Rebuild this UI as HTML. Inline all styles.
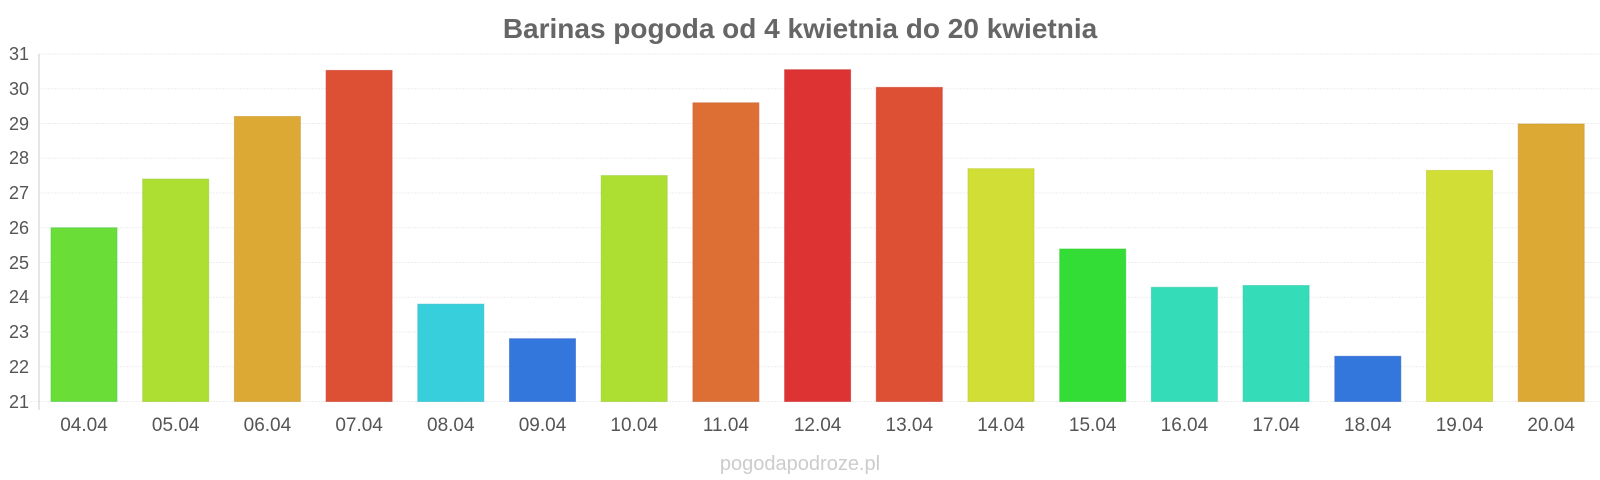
<!DOCTYPE html>
<html><head><meta charset="utf-8"><style>
body{margin:0;background:#fff;}
svg{display:block;font-family:"Liberation Sans",sans-serif;}
</style></head><body>
<svg width="1600" height="480" viewBox="0 0 1600 480">
<text x="800" y="38" text-anchor="middle" font-size="28" font-weight="bold" fill="#666">Barinas pogoda od 4 kwietnia do 20 kwietnia</text>
<g stroke="#eee" stroke-width="1" stroke-dasharray="2,1">
<line x1="39" x2="1600" y1="54" y2="54"/><line x1="39" x2="1600" y1="88.75" y2="88.75"/><line x1="39" x2="1600" y1="123.5" y2="123.5"/><line x1="39" x2="1600" y1="158.25" y2="158.25"/><line x1="39" x2="1600" y1="193" y2="193"/><line x1="39" x2="1600" y1="227.75" y2="227.75"/><line x1="39" x2="1600" y1="262.5" y2="262.5"/><line x1="39" x2="1600" y1="297.25" y2="297.25"/><line x1="39" x2="1600" y1="332" y2="332"/><line x1="39" x2="1600" y1="366.75" y2="366.75"/><line x1="30" x2="1600" y1="401.5" y2="401.5"/>
</g>
<line x1="39" x2="39" y1="54" y2="410" stroke="#ccc"/>
<g font-size="18" fill="#555" text-anchor="end">
<text x="29" y="60">31</text><text x="29" y="95">30</text><text x="29" y="130">29</text><text x="29" y="164">28</text><text x="29" y="199">27</text><text x="29" y="234">26</text><text x="29" y="269">25</text><text x="29" y="303">24</text><text x="29" y="338">23</text><text x="29" y="373">22</text><text x="29" y="408">21</text>
</g>
<g stroke-opacity="0.6" stroke-width="1">
<rect x="51" y="227.75" width="66" height="173.75" fill="#6add37" stroke="#5c5"/>
<rect x="142.7" y="179.1" width="66" height="222.4" fill="#addf33" stroke="#9c3"/>
<rect x="234.4" y="116.5" width="66" height="285" fill="#dca935" stroke="#c93"/>
<rect x="326.1" y="70.4" width="66" height="331.1" fill="#de5034" stroke="#c43"/>
<rect x="417.8" y="304.2" width="66" height="97.3" fill="#36cfdb" stroke="#3bc"/>
<rect x="509.5" y="338.7" width="66" height="62.8" fill="#3377dd" stroke="#36c"/>
<rect x="601.2" y="175.6" width="66" height="225.9" fill="#addf33" stroke="#9c3"/>
<rect x="692.9" y="102.8" width="66" height="298.7" fill="#de6f34" stroke="#c63"/>
<rect x="784.6" y="69.7" width="66" height="331.8" fill="#dd3333" stroke="#c33"/>
<rect x="876.3" y="87.4" width="66" height="314.1" fill="#de5034" stroke="#c43"/>
<rect x="968" y="168.7" width="66" height="232.8" fill="#d0de35" stroke="#bc3"/>
<rect x="1059.7" y="249" width="66" height="152.5" fill="#33dd36" stroke="#3c3"/>
<rect x="1151.4" y="287.3" width="66" height="114.2" fill="#34dcb7" stroke="#3ca"/>
<rect x="1243.1" y="285.5" width="66" height="116" fill="#34dcb7" stroke="#3ca"/>
<rect x="1334.8" y="356.3" width="66" height="45.2" fill="#3377dd" stroke="#36c"/>
<rect x="1426.5" y="170.4" width="66" height="231.1" fill="#d0de35" stroke="#bc3"/>
<rect x="1518.2" y="124" width="66" height="277.5" fill="#dca935" stroke="#c93"/>
</g>
<g font-size="19" fill="#555" text-anchor="middle">
<text x="84" y="431">04.04</text><text x="175.7" y="431">05.04</text><text x="267.4" y="431">06.04</text><text x="359.1" y="431">07.04</text><text x="450.8" y="431">08.04</text><text x="542.5" y="431">09.04</text><text x="634.2" y="431">10.04</text><text x="725.9" y="431">11.04</text><text x="817.6" y="431">12.04</text><text x="909.3" y="431">13.04</text><text x="1001" y="431">14.04</text><text x="1092.7" y="431">15.04</text><text x="1184.4" y="431">16.04</text><text x="1276.1" y="431">17.04</text><text x="1367.8" y="431">18.04</text><text x="1459.5" y="431">19.04</text><text x="1551.2" y="431">20.04</text>
</g>
<text x="800" y="470" text-anchor="middle" font-size="20" fill="#ccc">pogodapodroze.pl</text>
</svg>
</body></html>
